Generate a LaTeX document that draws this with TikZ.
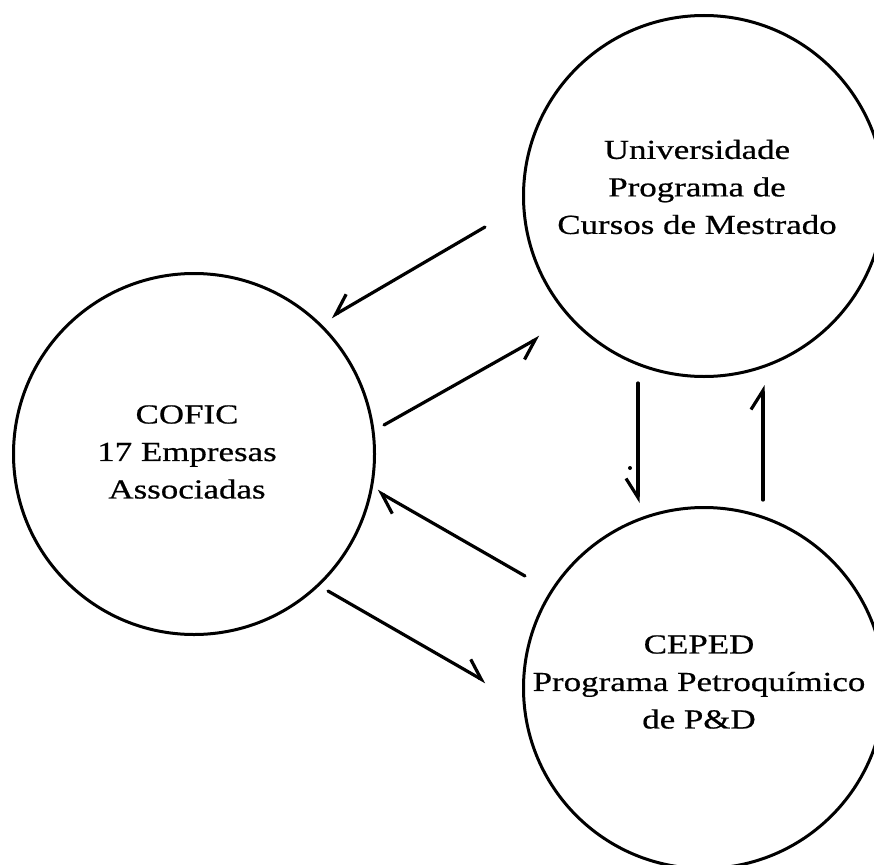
\documentclass[tikz,border=0pt]{standalone}
\usepackage{fontspec}
\setmainfont[FakeStretch=1.27,FakeBold=0.6]{Liberation Serif}
\usetikzlibrary{arrows.meta}
\begin{document}
\begin{tikzpicture}[x=1pt,y=-1pt,
  circ/.style={circle,draw,line width=3pt,minimum size=361pt,inner sep=0pt},
  txt/.style={align=center,inner sep=0pt,font=\fontsize{27.5}{37.5}\selectfont},
  flow/.style={line width=3.2pt,line cap=round},
  barbR/.style={flow,-{Straight Barb[right,length=19pt,width=24pt]}},
  barbL/.style={flow,-{Straight Barb[left,length=19pt,width=24pt]}}]
\useasboundingbox (0,0) rectangle (874,864);
\clip (0,0) rectangle (874,864);
\fill[white] (0,0) rectangle (874,864);
% circles
\node[circ] (univ) at (704,196) {};
\node[circ] (cofic) at (194,454) {};
\node[circ] (ceped) at (704,688) {};
% texts
\node[txt] (univT) at (697,187) {Universidade\\Programa de\\Cursos de Mestrado};
\node[txt] (coficT) at (187,452) {COFIC\\17 Empresas\\Associadas};
\node[txt] (cepedT) at (699,682) {CEPED\\Programa Petroquímico\\de P\&D};
% arrow end points
\coordinate (a1s) at (485,227); \coordinate (a1e) at (331,317);
\coordinate (a2s) at (384,425); \coordinate (a2e) at (540,337);
\coordinate (a3s) at (525,576); \coordinate (a3e) at (377,491);
\coordinate (a4s) at (328,591); \coordinate (a4e) at (486,682);
\coordinate (a5s) at (638,383); \coordinate (a5e) at (638,503);
\coordinate (a6s) at (763,500); \coordinate (a6e) at (763,385);
\draw[barbR] (a1s) -- (a1e);
\draw[barbR] (a2s) -- (a2e);
\draw[barbL] (a3s) -- (a3e);
\draw[barbL] (a4s) -- (a4e);
\draw[barbR] (a5s) -- (a5e);
\draw[barbL] (a6s) -- (a6e);
\fill (630,468) circle (2pt);
\end{tikzpicture}
\end{document}
